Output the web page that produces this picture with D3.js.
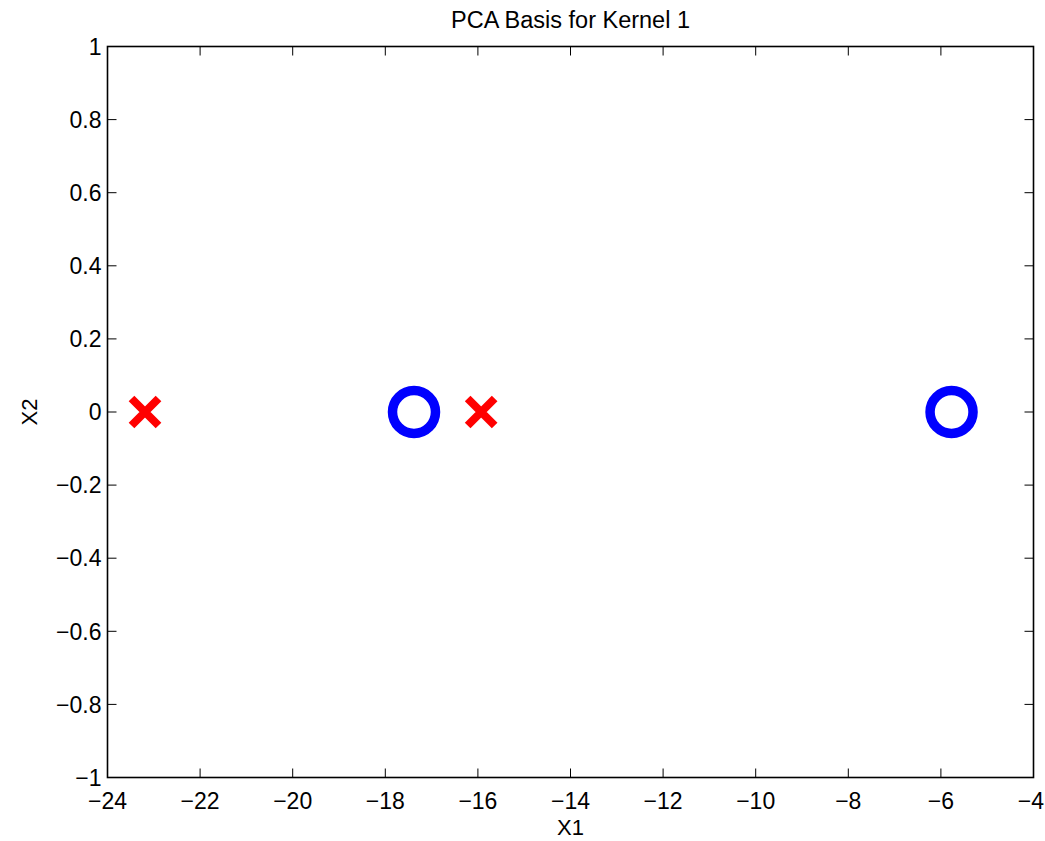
<!DOCTYPE html>
<html>
<head>
<meta charset="utf-8">
<script src="https://cdn.jsdelivr.net/npm/d3@7"></script>
<style>
  body { margin: 0; background: #fff; }
  text { font-family: "Liberation Sans", Arial, sans-serif; fill: #000; }
</style>
</head>
<body>
<div id="main"></div>
<script>
// data
const crossX = [-23.19, -15.93];
const crossY = [0, 0];
const circleX = [-17.38, -5.77];
const circleY = [0, 0];
const xTicks = [-24, -22, -20, -18, -16, -14, -12, -10, -8, -6, -4];
const yTicks = [-1, -0.8, -0.6, -0.4, -0.2, 0, 0.2, 0.4, 0.6, 0.8, 1];

const width = 1045, height = 841;
const m = { left: 107.5, right: 1045 - 1033.5, top: 46.5, bottom: 841 - 777.5 };

const svg = d3.select("#main").append("svg")
  .attr("width", width)
  .attr("height", height);

const x = d3.scaleLinear().domain([-24, -4]).range([m.left, width - m.right]);
const y = d3.scaleLinear().domain([-1, 1]).range([height - m.bottom, m.top]);

const fmt = v => {
  let s = d3.format("")(+v.toFixed(1));
  return s.replace("-", "\u2212");
};

const tickLen = 9;
const fs = 23;
const tfs = 23;

// frame
svg.append("rect")
  .attr("x", x(-24)).attr("y", y(1))
  .attr("width", x(-4) - x(-24)).attr("height", y(-1) - y(1))
  .attr("fill", "none").attr("stroke", "#000").attr("stroke-width", 1.6);

// x ticks (bottom and top, inward)
const gx = svg.append("g");
xTicks.forEach(t => {
  gx.append("line")
    .attr("x1", x(t)).attr("x2", x(t))
    .attr("y1", y(-1)).attr("y2", y(-1) - tickLen)
    .attr("stroke", "#000");
  gx.append("line")
    .attr("x1", x(t)).attr("x2", x(t))
    .attr("y1", y(1)).attr("y2", y(1) + tickLen)
    .attr("stroke", "#000");
  let lbl = gx.append("text")
    .attr("x", x(t)).attr("y", 808.5)
    .attr("text-anchor", "middle")
    .attr("font-size", tfs)
    .text(fmt(t));
  // keep the label inside the page
  let w = lbl.node().getComputedTextLength();
  if (x(t) + w / 2 > width - 1) lbl.attr("x", width - 1 - w / 2);
});

// y ticks (left and right, inward)
const gy = svg.append("g");
yTicks.forEach(t => {
  gy.append("line")
    .attr("x1", x(-24)).attr("x2", x(-24) + tickLen)
    .attr("y1", y(t)).attr("y2", y(t))
    .attr("stroke", "#000");
  gy.append("line")
    .attr("x1", x(-4)).attr("x2", x(-4) - tickLen)
    .attr("y1", y(t)).attr("y2", y(t))
    .attr("stroke", "#000");
  gy.append("text")
    .attr("x", x(-24) - 6).attr("y", y(t))
    .attr("dy", "0.36em")
    .attr("text-anchor", "end")
    .attr("font-size", tfs)
    .text(fmt(t));
});

// circles
svg.append("g").selectAll("circle")
  .data(circleX.map((v, i) => [v, circleY[i]]))
  .join("circle")
  .attr("cx", d => x(d[0]))
  .attr("cy", d => y(d[1]))
  .attr("r", 21.5)
  .attr("fill", "none")
  .attr("stroke", "#0000ff")
  .attr("stroke-width", 9.5);

// crosses
const s = 13.5;
svg.append("g").selectAll("path")
  .data(crossX.map((v, i) => [v, crossY[i]]))
  .join("path")
  .attr("transform", d => `translate(${x(d[0])},${y(d[1])})`)
  .attr("d", `M${-s},${-s}L${s},${s}M${-s},${s}L${s},${-s}`)
  .attr("fill", "none")
  .attr("stroke", "#ff0000")
  .attr("stroke-width", 8);

// labels
svg.append("text")
  .attr("x", (x(-24) + x(-4)) / 2).attr("y", 28)
  .attr("text-anchor", "middle")
  .attr("font-size", fs + 0.5)
  .text("PCA Basis for Kernel 1");

svg.append("text")
  .attr("x", (x(-24) + x(-4)) / 2).attr("y", 835)
  .attr("text-anchor", "middle")
  .attr("font-size", fs - 1)
  .text("X1");

svg.append("text")
  .attr("transform", `translate(37, ${y(0)}) rotate(-90)`)
  .attr("text-anchor", "middle")
  .attr("font-size", fs - 1)
  .text("X2");
</script>
</body>
</html>
